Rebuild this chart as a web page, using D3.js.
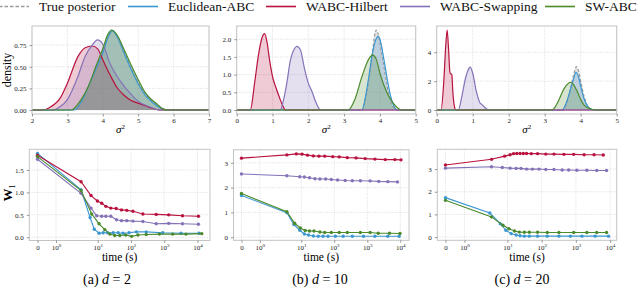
<!DOCTYPE html>
<html>
<head>
<meta charset="utf-8">
<script src="https://cdn.jsdelivr.net/npm/d3@7"></script>
<style>
  body { margin: 0; background: #fff; }
  svg { display: block; font-family: "Liberation Serif", "Times New Roman", serif; }
  svg text { font-family: "Liberation Serif", "Times New Roman", serif; }
</style>
</head>
<body>
<svg id="fig" width="640" height="288"></svg>
<script>
// ---- legend ----
const methods = ["True posterior", "Euclidean-ABC", "WABC-Hilbert", "WABC-Swapping", "SW-ABC"];

// ---- posterior densities of sigma^2, [sigma^2, density] ----
// d = 2
const d2Truth   = [[3.1,0],[3.3,0.05],[3.45,0.13],[3.6,0.27],[3.8,0.48],[4.0,0.69],[4.15,0.86],[4.25,0.92],[4.35,0.89],[4.5,0.78],[4.7,0.58],[4.9,0.40],[5.1,0.25],[5.3,0.14],[5.5,0.07],[5.7,0.02],[5.9,0]];
const d2Euclid  = [[3.2,0],[3.4,0.10],[3.6,0.28],[3.8,0.47],[4.0,0.66],[4.15,0.84],[4.27,0.915],[4.4,0.85],[4.6,0.66],[4.8,0.47],[5.0,0.30],[5.2,0.17],[5.4,0.09],[5.6,0.03],[5.8,0]];
const d2Hilbert = [[2.3,0],[2.5,0.03],[2.8,0.14],[3.0,0.31],[3.3,0.62],[3.5,0.72],[3.7,0.74],[3.85,0.71],[4.0,0.58],[4.2,0.41],[4.4,0.26],[4.6,0.17],[4.8,0.11],[5.0,0.08],[5.2,0.05],[5.4,0.02],[5.6,0]];
const d2Swap    = [[2.6,0],[2.8,0.04],[3.0,0.12],[3.3,0.39],[3.5,0.62],[3.7,0.75],[3.85,0.81],[4.0,0.76],[4.2,0.54],[4.5,0.33],[4.8,0.18],[5.0,0.10],[5.3,0.04],[5.6,0]];
const d2SW      = [[3.1,0],[3.3,0.07],[3.45,0.16],[3.6,0.28],[3.8,0.50],[4.0,0.71],[4.15,0.88],[4.25,0.925],[4.4,0.87],[4.6,0.70],[4.8,0.52],[5.0,0.35],[5.2,0.20],[5.35,0.13],[5.5,0.08],[5.7,0.01],[5.8,0]];
// d = 10
const d10Truth   = [[3.5,0],[3.6,0.3],[3.7,0.9],[3.8,1.7],[3.85,2.1],[3.9,2.26],[3.95,2.15],[4.0,1.9],[4.1,1.3],[4.2,0.7],[4.3,0.25],[4.4,0.05],[4.5,0]];
const d10Euclid  = [[3.5,0],[3.6,0.39],[3.7,1.0],[3.8,1.65],[3.9,2.02],[3.95,2.08],[4.0,2.0],[4.1,1.5],[4.2,0.9],[4.3,0.39],[4.4,0.09],[4.47,0]];
const d10Hilbert = [[0.38,0],[0.5,0.76],[0.6,1.5],[0.7,2.02],[0.78,2.16],[0.85,1.9],[0.92,1.4],[1.0,0.95],[1.1,0.62],[1.2,0.34],[1.3,0.09],[1.36,0]];
const d10Swap    = [[1.22,0],[1.3,0.25],[1.4,0.76],[1.5,1.41],[1.6,1.71],[1.68,1.8],[1.78,1.7],[1.9,1.14],[2.0,0.76],[2.1,0.53],[2.2,0.25],[2.3,0.04],[2.35,0]];
const d10SW      = [[3.12,0],[3.3,0.3],[3.5,0.95],[3.7,1.46],[3.8,1.55],[3.9,1.43],[4.0,1.04],[4.2,0.48],[4.4,0.16],[4.55,0.02],[4.6,0]];
// d = 20
const d20Truth   = [[3.5,0],[3.6,0.4],[3.7,1.3],[3.8,2.4],[3.88,3.0],[3.95,2.6],[4.0,2.0],[4.1,0.9],[4.2,0.25],[4.3,0.05],[4.4,0]];
const d20Euclid  = [[3.48,0],[3.6,0.5],[3.7,1.3],[3.8,2.15],[3.87,2.6],[3.95,2.2],[4.0,1.65],[4.1,0.73],[4.2,0.23],[4.3,0.05],[4.38,0]];
const d20Hilbert = [[0.12,0],[0.2,2.1],[0.25,4.4],[0.29,5.54],[0.33,4.2],[0.37,2.56],[0.42,2.45],[0.45,1.2],[0.5,0.16],[0.53,0]];
const d20Swap    = [[0.6,0],[0.7,0.96],[0.8,2.2],[0.9,2.9],[0.93,2.97],[1.0,2.56],[1.1,1.3],[1.2,0.5],[1.25,0.39],[1.3,0.27],[1.4,0.05],[1.45,0]];
const d20SW      = [[3.2,0],[3.4,0.73],[3.5,1.3],[3.6,1.7],[3.72,1.92],[3.8,1.76],[3.9,1.3],[4.0,0.73],[4.1,0.32],[4.3,0.05],[4.42,0]];

// ---- W1 distance vs wall-clock time (s) ----
// d = 2
const t2Euclid  = [0, 3.16, 5.9, 7.9, 11.0, 14.6, 19.7, 29.2, 41.2, 58, 87, 146, 288, 902, 3200, 11200];
const w2Euclid  = [1.87, 1.06, 0.44, 0.18, 0.09, 0.10, 0.10, 0.10, 0.10, 0.09, 0.10, 0.12, 0.12, 0.10, 0.09, 0.09];
const t2Hilbert = [0, 3.16, 6.3, 9.8, 13.2, 17.6, 24.8, 35.9, 51.9, 75, 115, 229, 575, 1365, 3550, 10700];
const w2Hilbert = [1.83, 1.24, 0.93, 0.81, 0.76, 0.69, 0.65, 0.64, 0.61, 0.60, 0.58, 0.52, 0.51, 0.50, 0.48, 0.47];
const t2Swap    = [0, 3.16, 6.3, 9.3, 13.2, 17.6, 24.8, 36.7, 51.9, 75, 115, 229, 575, 1365, 3550, 10700];
const w2Swap    = [1.74, 0.98, 0.65, 0.48, 0.47, 0.47, 0.47, 0.39, 0.37, 0.37, 0.36, 0.35, 0.30, 0.31, 0.30, 0.29];
const t2SW      = [0, 3.16, 6.6, 11.0, 16.4, 23.2, 32.7, 46.2, 70, 104, 162, 288, 716, 1800, 4520, 13500];
const w2SW      = [1.80, 1.04, 0.52, 0.30, 0.17, 0.07, 0.04, 0.04, 0.05, 0.02, 0.05, 0.06, 0.07, 0.07, 0.07, 0.08];
// d = 10
const t10Euclid  = [0, 3.67, 6.0, 9.0, 12.4, 16.6, 23.2, 32.7, 45.7, 64.5, 108, 186, 351, 768, 1700, 4170, 9200];
const w10Euclid  = [1.68, 0.99, 0.51, 0.28, 0.13, 0.09, 0.05, 0.04, 0.04, 0.04, 0.04, 0.04, 0.04, 0.04, 0.04, 0.04, 0.04];
const t10Hilbert = [0, 3.67, 7.1, 10.6, 15.5, 23.2, 34.3, 51.3, 90, 141, 248, 457, 861, 1700, 3500, 6840, 10500];
const w10Hilbert = [3.19, 3.32, 3.36, 3.35, 3.31, 3.28, 3.27, 3.27, 3.25, 3.24, 3.21, 3.20, 3.17, 3.15, 3.13, 3.13, 3.12];
const t10Swap    = [0, 3.67, 9.0, 12.4, 17.8, 26, 36.7, 55, 81.3, 126, 214, 351, 617, 1216, 2230, 4170, 8220];
const w10Swap    = [2.55, 2.48, 2.44, 2.43, 2.40, 2.36, 2.35, 2.35, 2.33, 2.31, 2.29, 2.28, 2.28, 2.27, 2.25, 2.24, 2.23];
const t10SW      = [0, 3.67, 6.3, 9.4, 13.2, 17.8, 24.3, 36.7, 51.3, 81.3, 141, 248, 617, 1216, 2140, 4700, 9780];
const w10SW      = [1.76, 1.03, 0.56, 0.37, 0.27, 0.25, 0.25, 0.21, 0.19, 0.19, 0.19, 0.19, 0.19, 0.19, 0.16, 0.16, 0.15];
// d = 20
const t20Euclid  = [0, 3.06, 6.2, 9.0, 12.9, 18.0, 23.4, 31.2, 43.7, 76, 146, 320, 692, 1500, 3630, 9000];
const w20Euclid  = [1.74, 1.06, 0.59, 0.30, 0.15, 0.09, 0.06, 0.04, 0.04, 0.04, 0.04, 0.04, 0.04, 0.04, 0.04, 0.04];
const t20Hilbert = [0, 3.43, 8.3, 12.0, 15.1, 18.8, 23.4, 29.2, 36.3, 49.6, 76, 132, 229, 447, 861, 1740, 3390, 6310];
const w20Hilbert = [3.18, 3.43, 3.57, 3.63, 3.68, 3.69, 3.69, 3.69, 3.69, 3.68, 3.68, 3.66, 3.66, 3.65, 3.65, 3.63, 3.63, 3.62];
const t20Swap    = [0, 3.43, 7.1, 12.0, 18.0, 25, 36.3, 54, 84, 132, 229, 398, 617, 1070, 2090, 4070, 7850];
const w20Swap    = [3.04, 3.10, 3.07, 3.04, 3.03, 3.03, 3.00, 3.00, 3.00, 2.98, 2.98, 2.96, 2.96, 2.95, 2.95, 2.94, 2.94];
const t20SW      = [0, 3.43, 7.4, 11.1, 16.1, 22.4, 31.2, 43.7, 76, 146, 320, 861, 2090, 4070, 7850];
const w20SW      = [1.62, 0.89, 0.52, 0.37, 0.27, 0.22, 0.21, 0.21, 0.21, 0.20, 0.20, 0.20, 0.20, 0.20, 0.20];

// ---- tick values ----
const timeTicks = [0, 1, 10, 100, 1000, 10000];
const captions = [["(a) ", "d", " = 2"], ["(b) ", "d", " = 10"], ["(c) ", "d", " = 20"]];

const colors = ["#9a9a9a", "#3b97d0", "#b8123e", "#8472b8", "#4a8a2b"];
const gridColor = "#cfcfcf";
const frameColor = "#c4c4c4";
const serif = '"Liberation Serif", "Times New Roman", serif';

const svg = d3.select("#fig");

// matplotlib style symlog (linthresh = 2, base 10, linscale 1)
const symlog = t => {
  const lt = 2, ls = 1 / (1 - 1 / 10), a = Math.abs(t);
  return a <= lt ? t * ls : Math.sign(t) * lt * (ls + Math.log10(a / lt));
};

// shared bits: grid, frame, ticks
const drawGrid = (g, f, xs, ys) => {
  g.append("g").selectAll("line").data(xs).enter().append("line")
    .attr("x1", d => d).attr("x2", d => d).attr("y1", f.y0).attr("y2", f.y1)
    .attr("stroke", gridColor).attr("stroke-width", 0.7).attr("stroke-dasharray", "1,1.4");
  g.append("g").selectAll("line").data(ys).enter().append("line")
    .attr("y1", d => d).attr("y2", d => d).attr("x1", f.x0).attr("x2", f.x1)
    .attr("stroke", gridColor).attr("stroke-width", 0.7).attr("stroke-dasharray", "1,1.4");
};

const drawFrame = (g, f) => {
  g.append("rect")
    .attr("x", f.x0).attr("y", f.y0)
    .attr("width", f.x1 - f.x0).attr("height", f.y1 - f.y0)
    .attr("fill", "none").attr("stroke", frameColor).attr("stroke-width", 1);
};

const styleAxis = ax => {
  ax.attr("font-family", null).attr("font-size", null);
  ax.select(".domain").remove();
  ax.selectAll(".tick line").attr("stroke", "#555").attr("stroke-width", 0.6);
  ax.selectAll(".tick text").attr("fill", "#222")
    .style("font-size", "7px").style("font-family", serif);
};

// ---- density panel ----
const drawDensity = (f, xDomain, xTicks, yTicks, yFmt, series) => {
  const g = svg.append("g");
  const ymax = d3.max(series, s => d3.max(s, d => d[1]));
  const x = d3.scaleLinear().domain(xDomain).range([f.x0, f.x1]);
  const y = d3.scaleLinear().domain([-0.05 * ymax, 1.05 * ymax]).range([f.y1, f.y0]);

  drawGrid(g, f, xTicks.map(x), yTicks.map(y));

  const area = d3.area().x(d => x(d[0])).y0(y(0)).y1(d => y(d[1])).curve(d3.curveMonotoneX);
  const line = d3.line().x(d => x(d[0])).y(d => y(d[1])).curve(d3.curveMonotoneX);

  series.forEach((s, i) => {
    g.append("path").datum(s).attr("d", area)
      .attr("fill", colors[i]).attr("fill-opacity", i === 0 ? 0.3 : 0.22);
  });
  series.forEach((s, i) => {
    const full = [[xDomain[0], 0], ...s, [xDomain[1], 0]];
    g.append("path").datum(full).attr("d", line)
      .attr("fill", "none").attr("stroke", colors[i])
      .attr("stroke-width", 1.2)
      .attr("stroke-dasharray", i === 0 ? "3,2" : null);
  });

  drawFrame(g, f);

  const ax = g.append("g").attr("transform", `translate(0,${f.y1})`)
    .call(d3.axisBottom(x).tickValues(xTicks).tickSize(2.5).tickPadding(2).tickFormat(d3.format("d")));
  styleAxis(ax);
  const ay = g.append("g").attr("transform", `translate(${f.x0},0)`)
    .call(d3.axisLeft(y).tickValues(yTicks).tickSize(2.5).tickPadding(3).tickFormat(d3.format(yFmt)));
  styleAxis(ay);

  const lab = g.append("text").attr("x", (f.x0 + f.x1) / 2).attr("y", f.y1 + 19)
    .attr("text-anchor", "middle").attr("font-size", "11px");
  lab.append("tspan").attr("font-style", "italic").text("σ");
  lab.append("tspan").attr("font-size", "7px").attr("dy", "-4").text("2");
};

// ---- convergence panel ----
const drawConv = (f, yTicks, yFmt, times, vals) => {
  const g = svg.append("g");
  const umax = d3.max(times, t => symlog(d3.max(t)));
  const vmin = d3.min(vals, v => d3.min(v));
  const vmax = d3.max(vals, v => d3.max(v));
  const pad = 0.05 * (vmax - vmin);
  const x = d3.scaleLinear().domain([-0.05 * umax, 1.05 * umax]).range([f.x0, f.x1]);
  const y = d3.scaleLinear().domain([vmin - pad, vmax + pad]).range([f.y1, f.y0]);

  drawGrid(g, f, timeTicks.map(t => x(symlog(t))), yTicks.map(y));

  const line = d3.line().x(d => x(symlog(d[0]))).y(d => y(d[1]));
  times.forEach((t, i) => {
    const pts = t.map((tt, k) => [tt, vals[i][k]]);
    const c = colors[i + 1];
    g.append("path").datum(pts).attr("d", line)
      .attr("fill", "none").attr("stroke", c).attr("stroke-width", 1.1);
    g.append("g").selectAll("circle").data(pts).enter().append("circle")
      .attr("cx", d => x(symlog(d[0]))).attr("cy", d => y(d[1]))
      .attr("r", 1.7).attr("fill", c);
  });

  drawFrame(g, f);

  const ax = g.append("g").attr("transform", `translate(0,${f.y1})`)
    .call(d3.axisBottom(x).tickValues(timeTicks.map(symlog)).tickSize(2.5).tickPadding(2).tickFormat(""));
  styleAxis(ax);
  ax.selectAll(".tick text").each(function(d, i) {
    const t = d3.select(this);
    if (timeTicks[i] === 0) { t.text("0"); return; }
    t.append("tspan").text("10");
    t.append("tspan").style("font-size", "5px").attr("dy", "-3").text(Math.round(Math.log10(timeTicks[i])));
  });
  const ay = g.append("g").attr("transform", `translate(${f.x0},0)`)
    .call(d3.axisLeft(y).tickValues(yTicks).tickSize(2.5).tickPadding(3).tickFormat(d3.format(yFmt)));
  styleAxis(ay);

  g.append("text").attr("x", (f.x0 + f.x1) / 2).attr("y", 261)
    .attr("text-anchor", "middle").attr("font-size", "11.5px").text("time (s)");
};

// ---- layout ----
const topFrames = [
  { x0: 32, x1: 209, y0: 26, y1: 114 },
  { x0: 236.7, x1: 415.7, y0: 26, y1: 114 },
  { x0: 436.7, x1: 616.7, y0: 26, y1: 114 }
];
const botFrames = [
  { x0: 29.3, x1: 210, y0: 149.3, y1: 240.5 },
  { x0: 233.5, x1: 409, y0: 149.8, y1: 240.3 },
  { x0: 437.3, x1: 616.7, y0: 149.3, y1: 240.3 }
];

drawDensity(topFrames[0], [2, 7], [2, 3, 4, 5, 6, 7], [0, 0.25, 0.5, 0.75], ".2f",
  [d2Truth, d2Euclid, d2Hilbert, d2Swap, d2SW]);
drawDensity(topFrames[1], [0, 5], [0, 1, 2, 3, 4, 5], [0, 0.5, 1, 1.5, 2], ".1f",
  [d10Truth, d10Euclid, d10Hilbert, d10Swap, d10SW]);
drawDensity(topFrames[2], [0, 5], [0, 1, 2, 3, 4, 5], [0, 2, 4], "d",
  [d20Truth, d20Euclid, d20Hilbert, d20Swap, d20SW]);

drawConv(botFrames[0], [0, 0.5, 1, 1.5], ".1f",
  [t2Euclid, t2Hilbert, t2Swap, t2SW], [w2Euclid, w2Hilbert, w2Swap, w2SW]);
drawConv(botFrames[1], [0, 1, 2, 3], "d",
  [t10Euclid, t10Hilbert, t10Swap, t10SW], [w10Euclid, w10Hilbert, w10Swap, w10SW]);
drawConv(botFrames[2], [0, 1, 2, 3], "d",
  [t20Euclid, t20Hilbert, t20Swap, t20SW], [w20Euclid, w20Hilbert, w20Swap, w20SW]);

// y labels
svg.append("text").attr("transform", "translate(10.5,70) rotate(-90)")
  .attr("text-anchor", "middle").attr("font-size", "12px").text("density");
const wl = svg.append("text").attr("transform", "translate(11.5,193) rotate(-90)")
  .attr("text-anchor", "middle").attr("font-size", "13px");
wl.append("tspan").attr("font-weight", "bold").text("W");
wl.append("tspan").attr("font-size", "8px").attr("dy", "3").text("1");

// captions
const capX = [107, 320, 522];
captions.forEach((c, i) => {
  const t = svg.append("text").attr("x", capX[i]).attr("y", 284)
    .attr("text-anchor", "middle").attr("font-size", "14px");
  t.append("tspan").text(c[0]);
  t.append("tspan").attr("font-style", "italic").text(c[1]);
  t.append("tspan").text(c[2]);
});

// legend across the top (clipped at both edges like the original)
const legendTextX = [39, 168, 306, 440, 585];
const legend = svg.append("g");
methods.forEach((m, i) => {
  legend.append("line")
    .attr("x1", legendTextX[i] - 40).attr("x2", legendTextX[i] - 10)
    .attr("y1", 6.5).attr("y2", 6.5)
    .attr("stroke", colors[i]).attr("stroke-width", 1.6)
    .attr("stroke-dasharray", i === 0 ? "3.5,2" : null);
  legend.append("text").attr("x", legendTextX[i]).attr("y", 10.8)
    .attr("font-size", "13.5px").attr("fill", "#111").text(m);
});
</script>
</body>
</html>
